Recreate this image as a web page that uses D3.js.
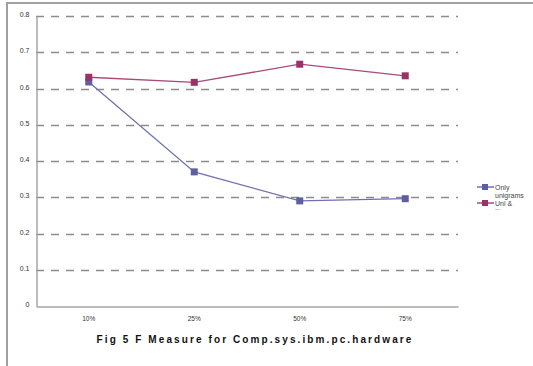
<!DOCTYPE html>
<html>
<head>
<meta charset="utf-8">
<script src="https://cdn.jsdelivr.net/npm/d3@7"></script>
<style>
  html, body { margin: 0; padding: 0; background: #fff; }
  svg { display: block; }
</style>
</head>
<body>
<svg id="chart" width="533" height="366"></svg>
<script>
// Training share categories and F-measure per feature set
const categories = ["10%", "25%", "50%", "75%"];
const onlyUnigrams = [0.618, 0.370, 0.290, 0.296];
const uniBigrams = [0.631, 0.617, 0.667, 0.635];
const yTicks = [0, 0.1, 0.2, 0.3, 0.4, 0.5, 0.6, 0.7, 0.8];
const seriesNames = ["Only unigrams", "Uni & Bi"];

const svg = d3.select("#chart");
const font = "'Liberation Sans', Arial, sans-serif";

// outer frame
svg.append("rect")
  .attr("x", 7).attr("y", 3)
  .attr("width", 540).attr("height", 380)
  .attr("fill", "none").attr("stroke", "#a0a0a0").attr("stroke-width", 2);

const plot = { left: 36, right: 458, top: 16, bottom: 306 };

const x = d3.scaleBand().domain(categories).range([plot.left, plot.right]);
const y = d3.scaleLinear().domain([0, 0.8]).range([plot.bottom, plot.top]);

// dashed horizontal gridlines
svg.append("g")
  .selectAll("line")
  .data(yTicks.filter(d => d > 0))
  .join("line")
  .attr("x1", plot.left).attr("x2", plot.right)
  .attr("y1", d => Math.round(y(d)) + 0.5).attr("y2", d => Math.round(y(d)) + 0.5)
  .attr("stroke", "#8c8c8c").attr("stroke-width", 1.3)
  .attr("stroke-dasharray", "8,7");

// y axis
const yAxis = svg.append("g")
  .attr("transform", `translate(${plot.left + 0.5},0)`)
  .call(d3.axisLeft(y).tickValues(yTicks).tickFormat(d => d === 0 ? "0" : d3.format(".1f")(d)).tickSize(0).tickPadding(7));
yAxis.select(".domain").attr("stroke", "#a6a6a6").attr("stroke-width", 1.5);
yAxis.selectAll("text").attr("font-family", font).attr("font-size", 7).attr("fill", "#333").attr("dy", "0.1em");

// x axis
const xAxis = svg.append("g")
  .attr("transform", `translate(0,${plot.bottom + 0.5})`)
  .call(d3.axisBottom(x).tickSize(0).tickPadding(10));
xAxis.select(".domain").attr("stroke", "#a6a6a6").attr("stroke-width", 1.5);
xAxis.selectAll("text").attr("font-family", font).attr("font-size", 6.5).attr("fill", "#333");

const cx = c => x(c) + x.bandwidth() / 2;

const series = [
  { name: seriesNames[0], values: onlyUnigrams, line: "#7070b0", marker: "#5f5f9f" },
  { name: seriesNames[1], values: uniBigrams, line: "#a84a7a", marker: "#993366" }
];

const line = d3.line().x((d, i) => cx(categories[i])).y(d => y(d));

series.forEach(s => {
  svg.append("path")
    .datum(s.values)
    .attr("d", line)
    .attr("fill", "none")
    .attr("stroke", s.line)
    .attr("stroke-width", 1.3);
});
series.forEach(s => {
  svg.append("g")
    .selectAll("rect")
    .data(s.values)
    .join("rect")
    .attr("x", (d, i) => cx(categories[i]) - 3.5)
    .attr("y", d => y(d) - 3.5)
    .attr("width", 7).attr("height", 7)
    .attr("fill", s.marker);
});

// legend (text clipped to its box)
svg.append("defs").append("clipPath").attr("id", "legendClip")
  .append("rect").attr("x", 470).attr("y", 180).attr("width", 60).attr("height", 29.5);

const legend = svg.append("g").attr("clip-path", "url(#legendClip)");
const legendRows = [
  { s: series[0], y: 187, lines: ["Only", "unigrams"] },
  { s: series[1], y: 203, lines: ["Uni &", "Bi"] }
];
legendRows.forEach(r => {
  legend.append("line")
    .attr("x1", 477).attr("x2", 494)
    .attr("y1", r.y).attr("y2", r.y)
    .attr("stroke", r.s.line).attr("stroke-width", 1.3);
  legend.append("rect")
    .attr("x", 482).attr("y", r.y - 3).attr("width", 6).attr("height", 6)
    .attr("fill", r.s.marker);
  const t = legend.append("text")
    .attr("x", 495).attr("y", r.y + 2.5)
    .attr("font-family", font).attr("font-size", 7).attr("fill", "#444");
  r.lines.forEach((l, i) => {
    t.append("tspan").attr("x", 495).attr("dy", i === 0 ? 0 : 8).text(l);
  });
});

// caption
svg.append("text")
  .attr("x", 255).attr("y", 343)
  .attr("text-anchor", "middle")
  .attr("font-family", font).attr("font-size", 10).attr("font-weight", "bold")
  .attr("letter-spacing", 2.1)
  .attr("fill", "#111")
  .text("Fig 5 F Measure for Comp.sys.ibm.pc.hardware");
</script>
</body>
</html>
